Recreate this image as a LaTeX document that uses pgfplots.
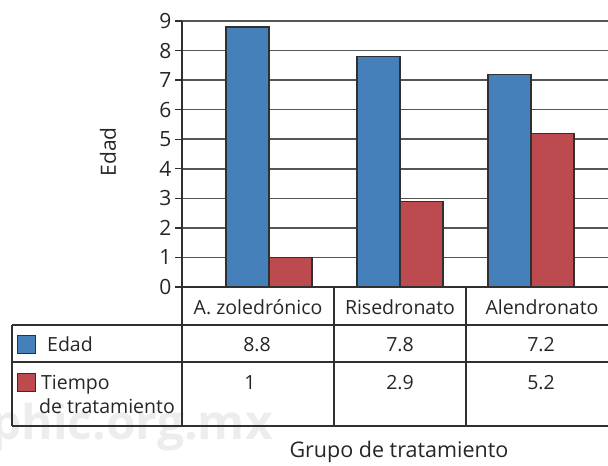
\documentclass[border=0pt]{standalone}
\usepackage{pgfplots}
\pgfplotsset{compat=1.18}
\usepackage{fontspec}
\setmainfont{Open Sans}
\definecolor{barblue}{HTML}{4680BB}
\definecolor{barred}{HTML}{BC4A4F}
\definecolor{txt}{HTML}{262626}
\definecolor{gridc}{HTML}{555555}
\definecolor{linec}{HTML}{303030}
\begin{document}
\begin{tikzpicture}
\useasboundingbox (0pt,0pt) rectangle (608pt,466pt);
\node[anchor=base east, font=\fontsize{48}{52}\selectfont\bfseries, text=black!7, inner sep=0pt] at (273pt,26pt) {phic.org.mx};
\begin{axis}[
  at={(182pt,179pt)}, anchor=south west,
  scale only axis, width=426pt, height=266pt,
  xmin=-0.664, xmax=2.588, ymin=0, ymax=9,
  ytick={0,1,...,9}, xtick=\empty,
  axis lines*=left,
  axis line style={-, line width=1.3pt, color=linec},
  ymajorgrids, grid style={line width=1.5pt, color=gridc},
  tick align=outside, major tick length=7pt,
  tick style={line width=1.3pt, color=linec},
  /pgf/number format/assume math mode=true,
  yticklabel style={font=\fontsize{21}{25}\selectfont, text=txt},
  ybar=0pt, bar width=43pt,
  clip=false,
]
\addplot[ybar, fill=barblue, draw=linec, line width=1.2pt] coordinates {(0,8.8) (1,7.8) (2,7.2)};
\addplot[ybar, fill=barred, draw=linec, line width=1.2pt] coordinates {(0,1) (1,2.9) (2,5.2)};
\end{axis}
% y label
\node[rotate=90, font=\fontsize{21}{25}\selectfont, text=txt] at (108pt,314pt) {Edad};
% table lines
\draw[linec, line width=1.3pt] (12pt,141pt) -- (608pt,141pt);
\draw[linec, line width=1.3pt] (12pt,104pt) -- (608pt,104pt);
\draw[linec, line width=1.3pt] (12pt,40pt) -- (608pt,40pt);
\draw[linec, line width=1.3pt] (12pt,141pt) -- (12pt,40pt);
\draw[linec, line width=1.3pt] (182pt,179pt) -- (182pt,40pt);
\draw[linec, line width=1.3pt] (334pt,179pt) -- (334pt,40pt);
\draw[linec, line width=1.3pt] (466pt,179pt) -- (466pt,40pt);
% legend squares
\draw[fill=barblue, draw=linec, line width=1pt] (17pt,112pt) rectangle (35pt,130pt);
\draw[fill=barred, draw=linec, line width=1pt] (17pt,74pt) rectangle (35pt,92pt);
% table text
\begin{scope}[every node/.style={inner sep=0pt, font=\fontsize{19.5}{23}\selectfont, text=txt}]
\node[anchor=base] at (258pt,151pt) {A. zoledrónico};
\node[anchor=base] at (400pt,151pt) {Risedronato};
\node[anchor=base] at (542pt,151pt) {Alendronato};
\node[anchor=base west] at (47pt,114pt) {Edad};
\node[anchor=base west] at (41pt,76pt) {Tiempo};
\node[anchor=base west] at (39pt,52pt) {de tratamiento};
\node[anchor=base] at (257pt,114pt) {8.8};
\node[anchor=base] at (400pt,114pt) {7.8};
\node[anchor=base] at (541pt,114pt) {7.2};
\node[anchor=base] at (250pt,76pt) {1};
\node[anchor=base] at (400pt,76pt) {2.9};
\node[anchor=base] at (541pt,76pt) {5.2};
\end{scope}
\node[anchor=base, inner sep=0pt, font=\fontsize{21.5}{25}\selectfont, text=txt] at (399pt,8pt) {Grupo de tratamiento};
\end{tikzpicture}
\end{document}
